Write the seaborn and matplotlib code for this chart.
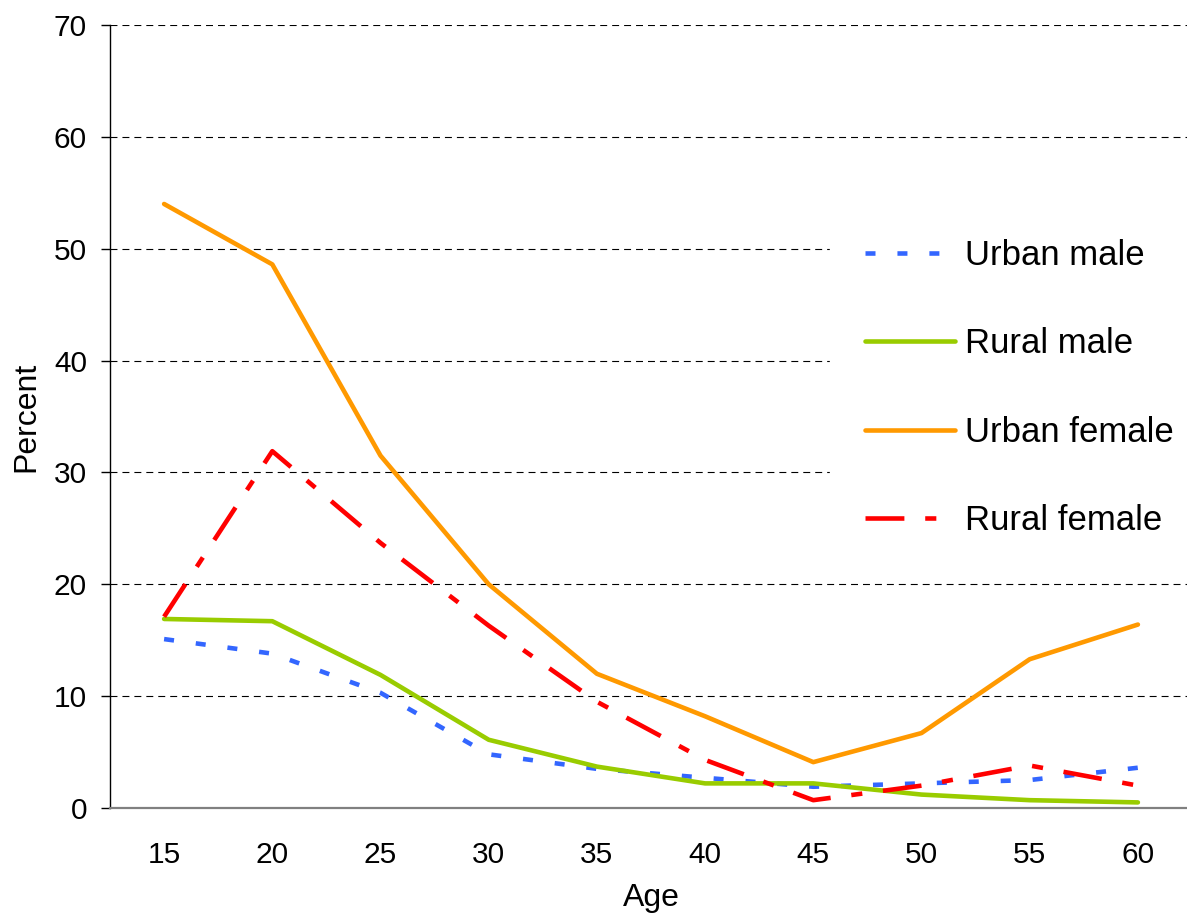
import matplotlib
matplotlib.use("Agg")
import matplotlib.pyplot as plt
import numpy as np
import pandas as pd
import seaborn as sns

# Data
ages = ["15", "20", "25", "30", "35", "40", "45", "50", "55", "60"]
urban_male = [15.1, 13.8, 10.3, 4.8, 3.5, 2.7, 1.9, 2.2, 2.5, 3.6]
rural_male = [16.9, 16.7, 11.9, 6.1, 3.7, 2.2, 2.2, 1.2, 0.7, 0.5]
urban_female = [54.0, 48.6, 31.5, 20.0, 12.0, 8.2, 4.1, 6.7, 13.3, 16.4]
rural_female = [17.1, 31.9, 23.7, 16.3, 9.5, 4.3, 0.7, 2.0, 3.8, 2.0]

series_names = ["Urban male", "Rural male", "Urban female", "Rural female"]
series_values = [urban_male, rural_male, urban_female, rural_female]
colors = ["#3366FF", "#99CC00", "#FF9900", "#FF0000"]
styles = [(0, (7.2, 15.8)), "-", "-", (0, (28, 15, 8, 15))]

sns.set_style("white")
plt.rcParams["font.family"] = ["Liberation Sans", "DejaVu Sans"]
plt.rcParams["lines.scale_dashes"] = False
plt.rcParams["text.color"] = "black"
plt.rcParams["axes.labelcolor"] = "black"
plt.rcParams["xtick.color"] = "black"
plt.rcParams["ytick.color"] = "black"

W, H = 1187, 917
fig = plt.figure(figsize=(W / 100, H / 100), dpi=100)
ax = fig.add_axes([110 / W, 1 - 808 / H, (1192 - 110) / W, (808 - 25) / H])

pos = np.arange(len(ages))
for name, vals, col, ls in zip(series_names, series_values, colors, styles):
    df = pd.DataFrame({"pos": pos, "value": vals})
    sns.lineplot(data=df, x="pos", y="value", ax=ax, color=col, linewidth=3.3,
                 linestyle=ls, label=name, dash_capstyle="butt",
                 solid_capstyle="round", zorder=3)

ax.set_xlim(-0.5, len(ages) - 0.5)
ax.set_ylim(0, 70)
ax.set_yticks(range(0, 71, 10))
ax.yaxis.grid(True, color="black", linestyle=(0, (5, 3.6)), linewidth=0.8)
ax.set_axisbelow(True)

# category labels centred, tick marks between categories
ax.set_xticks(pos)
ax.set_xticklabels(ages)
ax.set_xticks(np.arange(-0.5, len(ages), 1.0), minor=True)
ax.tick_params(axis="x", which="major", length=0, pad=24, labelsize=21.5)
ax.tick_params(axis="x", which="minor", length=6.5, width=1, color="#808080", direction="out")
ax.tick_params(axis="y", length=6.5, width=1, direction="out", left=True, labelsize=21.5, pad=10)

for side in ["top", "right"]:
    ax.spines[side].set_visible(False)
ax.spines["left"].set_color("black")
ax.spines["left"].set_linewidth(1)
ax.spines["bottom"].set_color("#808080")
ax.spines["bottom"].set_linewidth(1.6)

ax.set_xlabel("Age", fontsize=23, labelpad=10)
ax.set_ylabel("Percent", fontsize=23, labelpad=9)

leg = ax.legend(loc="upper left", bbox_to_anchor=(830 / W, 1 - 204 / H),
                bbox_transform=fig.transFigure, frameon=True, fontsize=25,
                handlelength=2.6, handletextpad=0.3, labelspacing=1.6,
                borderpad=1.0, borderaxespad=0, fancybox=False)
leg.get_frame().set_facecolor("white")
leg.get_frame().set_edgecolor("white")
leg.get_frame().set_alpha(1)

fig.savefig("out.png", dpi=100)
